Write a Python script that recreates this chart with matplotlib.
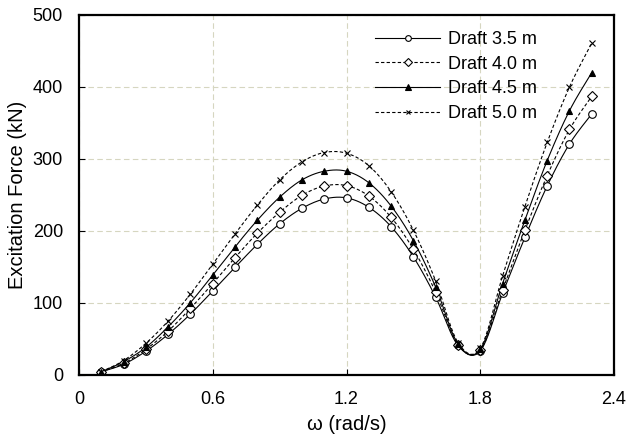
import matplotlib
matplotlib.use("Agg")
import matplotlib.pyplot as plt
import numpy as np
from matplotlib.lines import Line2D

plt.rcParams['font.family'] = ['Liberation Sans', 'DejaVu Sans']

# frequencies (rad/s)
omega = [0.1, 0.2, 0.3, 0.4, 0.5, 0.6, 0.7, 0.8, 0.9, 1.0, 1.1, 1.2,
         1.3, 1.4, 1.5, 1.6, 1.7, 1.8, 1.9, 2.0, 2.1, 2.2, 2.3]

# excitation force (kN) per draft
draft_35 = [4.5, 14.8, 33, 56.5, 84.7, 116.7, 149.5, 181.5, 210, 231.5, 244.4, 246,
            233, 206, 164, 108, 41, 33.5, 113.4, 191, 262.5, 320.8, 362.5]
draft_40 = [4.5, 16, 35.6, 61, 92.6, 127, 163, 197, 226, 249.5, 262.5, 263,
            248.6, 219, 174.5, 115, 42, 34.5, 118, 201, 276.8, 341, 387]
draft_45 = [4.5, 18.5, 38.4, 67, 100.5, 139, 178, 215, 247, 271, 283, 283,
            267, 234.7, 186.5, 122, 43, 35.5, 127, 215, 297.7, 367, 420]
draft_50 = [4.5, 20, 44, 75, 112.5, 154, 196, 236, 271, 296, 309, 308,
            290.7, 254.6, 201, 130.5, 45, 37, 137.5, 233.8, 323, 400, 461]

labels = ['Draft 3.5 m', 'Draft 4.0 m', 'Draft 4.5 m', 'Draft 5.0 m']


def smooth(x, y, n=20):
    # Catmull-Rom style smoothing similar to spreadsheet "smoothed lines"
    x = np.asarray(x, float)
    y = np.asarray(y, float)
    px = np.concatenate([[x[0]], x, [x[-1]]])
    py = np.concatenate([[y[0]], y, [y[-1]]])
    xs, ys = [], []
    t = np.linspace(0, 1, n, endpoint=False)
    for i in range(1, len(px) - 2):
        p0, p1, p2, p3 = (np.array([px[j], py[j]]) for j in range(i - 1, i + 3))
        c1 = p1 + (p2 - p0) / 6.0
        c2 = p2 - (p3 - p1) / 6.0
        b = ((1 - t) ** 3)[:, None] * p1 + (3 * (1 - t) ** 2 * t)[:, None] * c1 \
            + (3 * (1 - t) * t ** 2)[:, None] * c2 + (t ** 3)[:, None] * p2
        xs.append(b[:, 0])
        ys.append(b[:, 1])
    xs.append([x[-1]])
    ys.append([y[-1]])
    return np.concatenate(xs), np.concatenate(ys)


fig = plt.figure(figsize=(6.28, 4.41), dpi=100)
ax = fig.add_axes([0.1258, 0.1497, 0.852, 0.8163])

styles = [
    dict(ls='-', marker='o', mfc='white', ms=5.5),
    dict(ls=(0, (3, 2)), marker='D', mfc='white', ms=5),
    dict(ls='-', marker='^', mfc='black', ms=5),
    dict(ls=(0, (3, 2)), marker='x', mfc='black', ms=4.5),
]

series = [draft_35, draft_40, draft_45, draft_50]
handles = []
for yv, st, lab in zip(series, styles, labels):
    sx, sy = smooth(omega, yv)
    ax.plot(sx, sy, color='black', lw=0.8, ls=st['ls'], zorder=2)
    ax.plot(omega, yv, ls='none', marker=st['marker'], mfc=st['mfc'],
            mec='black', mew=0.8, ms=st['ms'], zorder=3)
    handles.append(Line2D([], [], color='black', lw=0.8, ls=st['ls'],
                          marker=st['marker'], mfc=st['mfc'], mec='black',
                          mew=0.8, ms=st['ms'] * 0.75))

ax.set_xlim(0, 2.4)
ax.set_ylim(0, 500)
ax.set_xticks([0, 0.6, 1.2, 1.8, 2.4])
ax.set_xticklabels(['0', '0.6', '1.2', '1.8', '2.4'])
ax.set_yticks(range(0, 501, 100))
ax.tick_params(direction='in', length=4, width=0.8, labelsize=13, pad=11.5)
ax.grid(True, color='#d6d6c0', ls=(0, (5, 3)), lw=0.8)
for s in ax.spines.values():
    s.set_linewidth(1.6)

ax.set_xlabel('ω (rad/s)', fontsize=14.5, labelpad=5)
ax.set_ylabel('Excitation Force (kN)', fontsize=14.5, labelpad=4)

ax.legend(handles, labels, loc='upper left', bbox_to_anchor=(0.537, 0.98),
          frameon=False, fontsize=13, handlelength=3.6, handletextpad=0.4,
          labelspacing=0.42, borderpad=0)

fig.savefig('out.png', dpi=100)
